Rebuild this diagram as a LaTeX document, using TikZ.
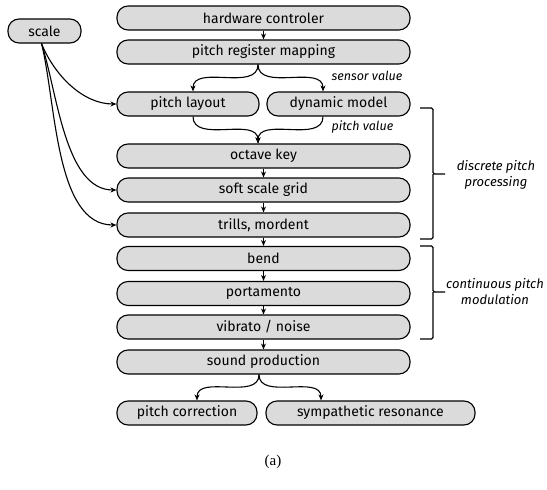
\documentclass[tikz,border=0pt]{standalone}
\usepackage{fontspec}
\setmainfont{Fira Sans}
\newfontfamily\capfont{Liberation Serif}
\usetikzlibrary{arrows.meta}
\begin{document}
\begin{tikzpicture}[x=1pt,y=-1pt,
  box/.style={draw=black,line width=1.1pt,fill=black!14,rounded corners=11pt,
    minimum height=24pt,inner sep=0pt,font=\fontsize{14}{16}\selectfont},
  arr/.style={line width=1.1pt,-{Stealth[length=6pt,width=5pt]}},
  lab/.style={font=\fontsize{12.5}{16}\selectfont\itshape},
  blab/.style={font=\fontsize{13}{16.5}\selectfont\itshape,align=center,inner sep=0pt},
  brk/.style={line width=1.1pt,rounded corners=1.5pt}]
\useasboundingbox (0,0) rectangle (547,490);
\node[box,minimum width=73pt] (scale) at (44.5,31) {scale};
\node[box,minimum width=293pt] (hw) at (263.5,18) {hardware controler};
\node[box,minimum width=293pt] (prm) at (263.5,52) {pitch register mapping};
\node[box,minimum width=142pt] (pl) at (188,104) {pitch layout};
\node[box,minimum width=143pt] (dm) at (338.5,104) {dynamic model};
\node[box,minimum width=293pt] (ok) at (263.5,156) {octave key};
\node[box,minimum width=293pt] (ssg) at (263.5,190) {soft scale grid};
\node[box,minimum width=293pt] (tm) at (263.5,225) {trills, mordent};
\node[box,minimum width=293pt] (bend) at (263.5,258.5) {bend};
\node[box,minimum width=293pt] (port) at (263.5,293.5) {portamento};
\node[box,minimum width=293pt] (vib) at (263.5,327) {vibrato / noise};
\node[box,minimum width=293pt] (sp) at (263.5,362) {sound production};
\node[box,minimum width=140pt] (pc) at (187,413) {pitch correction};
\node[box,minimum width=209pt] (sr) at (370.5,413) {sympathetic resonance};

\draw[arr] (hw.south) -- (prm.north);
\draw[arr] (ok.south) -- (ssg.north);
\draw[arr] (ssg.south) -- (tm.north);
\draw[arr] (tm.south) -- (bend.north);
\draw[arr] (bend.south) -- (port.north);
\draw[arr] (port.south) -- (vib.north);
\draw[arr] (vib.south) -- (sp.north);

\draw[arr] ([xshift=-5.5pt]prm.south) to[out=-90,in=90] ([xshift=5pt]pl.north);
\draw[arr] ([xshift=-5.5pt]prm.south) to[out=-90,in=90] ([xshift=-15.5pt]dm.north);
\draw[arr] ([xshift=5pt]pl.south) to[out=-90,in=90] ([xshift=-5.5pt]ok.north);
\draw[arr] ([xshift=-15.5pt]dm.south) to[out=-90,in=90] ([xshift=-5.5pt]ok.north);
\draw[arr] ([xshift=-4.5pt]sp.south) to[out=-90,in=90] ([xshift=10pt]pc.north);
\draw[arr] ([xshift=-4.5pt]sp.south) to[out=-90,in=90] ([xshift=-49.5pt]sr.north);

\draw[arr] ([xshift=-3pt]scale.south) to[out=-68,in=180,looseness=0.9] (pl.west);
\draw[arr] ([xshift=-3pt]scale.south) to[out=-72,in=180,looseness=0.8] (ssg.west);
\draw[arr] ([xshift=-3pt]scale.south) to[out=-76,in=180,looseness=0.8] (tm.west);

\node[lab,anchor=west] (sv) at (328,76) {sensor value};
\node[lab,anchor=west] (pv) at (328,127) {pitch value};

\draw[brk] (420,108) -- (433,108) -- (433,174) -- (445,174) (433,174) -- (433,239) -- (420,239);
\draw[brk] (420,246) -- (433,246) -- (433,292) -- (445,292) (433,292) -- (433,339) -- (420,339);
\node[blab] (dpp) at (496,175) {discrete pitch\\processing};
\node[blab] (cpm) at (495,291.5) {continuous pitch\\modulation};

\node[font=\capfont\fontsize{15}{17}\selectfont] (cap) at (273,462) {(a)};
\end{tikzpicture}
\end{document}
